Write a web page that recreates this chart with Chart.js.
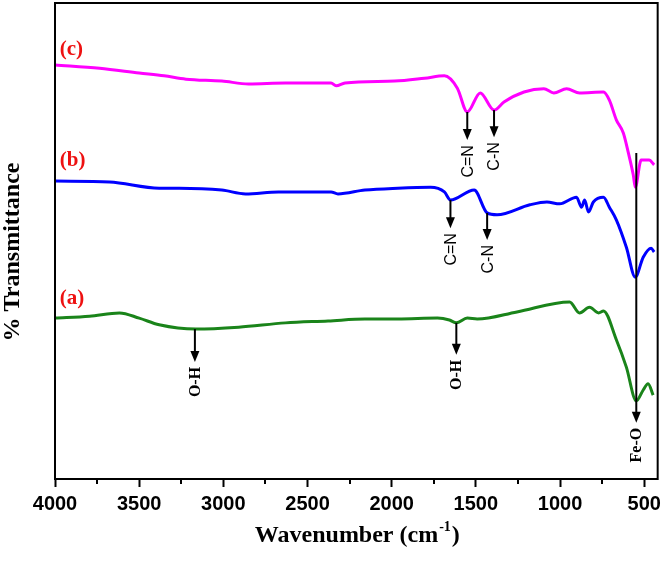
<!DOCTYPE html>
<html>
<head>
<meta charset="utf-8">
<script src="https://cdn.jsdelivr.net/npm/chart.js@4"></script>
<style>
    html, body { margin: 0; padding: 0; background: #fff; }
    #wrap { width: 666px; height: 564px; }
</style>
</head>
<body>
<div id="wrap"><canvas id="ftir"></canvas></div>
<script>
// wavenumber (cm-1) and relative transmittance
const wnC = [4000, 3735, 3500, 3352, 3222, 3009, 2850, 2631, 2360, 2330, 2277, 1982, 1805, 1687, 1610, 1551, 1474, 1392, 1333, 1214, 1096, 1037, 961, 884, 742, 707, 665, 624, 594, 565, 553, 518, 471, 441];
const tC  = [87.0, 86.3, 85.3, 84.7, 84.0, 83.6, 83.0, 83.2, 83.2, 82.6, 83.2, 83.6, 84.2, 84.7, 82.1, 77.1, 81.1, 77.5, 79.2, 81.3, 82.0, 81.1, 82.0, 81.1, 81.3, 79.6, 75.4, 72.7, 68.5, 63.9, 61.3, 67.0, 67.0, 66.0];

const wnB = [4000, 3676, 3381, 3263, 3009, 2868, 2673, 2360, 2319, 2159, 1964, 1769, 1687, 1651, 1510, 1433, 1374, 1179, 1078, 1002, 902, 872, 854, 831, 802, 742, 707, 665, 606, 553, 506, 459, 441];
const tB  = [62.6, 62.4, 61.1, 61.1, 60.7, 59.9, 60.3, 60.3, 59.9, 60.7, 61.1, 61.3, 60.3, 58.6, 60.7, 55.9, 55.5, 57.6, 58.2, 57.8, 59.2, 57.1, 58.6, 56.1, 58.2, 59.2, 57.1, 54.4, 48.7, 42.4, 46.6, 48.5, 47.7];

const wnA = [4000, 3795, 3617, 3500, 3381, 3163, 2909, 2631, 2378, 2159, 1964, 1728, 1657, 1616, 1551, 1492, 1256, 943, 884, 825, 771, 742, 665, 606, 547, 506, 477, 447];
const tA  = [33.8, 34.2, 34.9, 33.8, 32.4, 31.5, 31.9, 32.8, 33.2, 33.6, 33.6, 33.8, 33.4, 32.8, 33.8, 33.6, 35.1, 37.2, 34.9, 36.1, 34.9, 35.3, 29.2, 23.5, 16.4, 18.7, 20.0, 17.6];

const seriesNames = ['(c)', '(b)', '(a)'];
const seriesColors = ['#ff00ff', '#0000ff', '#1a841a'];

const majorTicks = [4000, 3500, 3000, 2500, 2000, 1500, 1000, 500];
const minorTicks = [3750, 3250, 2750, 2250, 1750, 1250, 750];

// band assignments: wavenumber, arrow from / to (transmittance), text
const bandWn    = [1551, 1392, 1651, 1433, 3169, 1616, 547];
const bandFrom  = [77.1, 77.5, 58.6, 55.9, 31.5, 32.8, 68.5];
const bandTo    = [71.2, 71.8, 52.7, 50.2, 24.6, 26.1, 11.8];
const bandText  = ['C=N', 'C-N', 'C=N', 'C-N', 'O-H', 'O-H', 'Fe-O'];
const bandSerif = [false, false, false, false, true, true, true];

const nameWn = [3972, 3972, 3972];
const nameT  = [90.3, 67.0, 38.0];

function pts(wn, t) {
    return wn.map((x, i) => ({ x: x, y: t[i] }));
}

const decorations = {
    id: 'decorations',
    afterDatasetsDraw(chart) {
        const ctx = chart.ctx;
        const xs = chart.scales.x, ys = chart.scales.y;
        const area = chart.chartArea;
        ctx.save();

        // frame
        ctx.strokeStyle = '#000';
        ctx.lineWidth = 2;
        ctx.strokeRect(area.left, area.top, area.right - area.left, area.bottom - area.top);

        // minor ticks
        minorTicks.forEach(v => {
            const px = Math.round(xs.getPixelForValue(v));
            ctx.beginPath();
            ctx.moveTo(px, area.bottom);
            ctx.lineTo(px, area.bottom + 5);
            ctx.stroke();
        });

        // arrows and band labels
        bandWn.forEach((w, i) => {
            const px = xs.getPixelForValue(w);
            const y1 = ys.getPixelForValue(bandFrom[i]);
            const y2 = ys.getPixelForValue(bandTo[i]);
            ctx.strokeStyle = '#000';
            ctx.fillStyle = '#000';
            ctx.lineWidth = 2;
            ctx.beginPath();
            ctx.moveTo(px, y1);
            ctx.lineTo(px, y2 - 9);
            ctx.stroke();
            ctx.beginPath();
            ctx.moveTo(px - 4.5, y2 - 11);
            ctx.lineTo(px + 4.5, y2 - 11);
            ctx.lineTo(px, y2);
            ctx.closePath();
            ctx.fill();

            ctx.save();
            ctx.translate(px, y2 + 5);
            ctx.rotate(-Math.PI / 2);
            ctx.font = bandSerif[i] ? 'bold 16px "Liberation Serif"' : '16px "Liberation Sans"';
            ctx.textAlign = 'right';
            ctx.textBaseline = 'middle';
            ctx.fillText(bandText[i], 0, 1);
            ctx.restore();
        });

        // series names
        ctx.font = 'bold 21px "Liberation Serif"';
        ctx.fillStyle = '#ee1111';
        ctx.textAlign = 'left';
        ctx.textBaseline = 'middle';
        seriesNames.forEach((s, i) => {
            ctx.fillText(s, xs.getPixelForValue(nameWn[i]), ys.getPixelForValue(nameT[i]));
        });

        // axis titles
        ctx.fillStyle = '#000';
        ctx.save();
        ctx.translate(13, 252);
        ctx.rotate(-Math.PI / 2);
        ctx.font = 'bold 24px "Liberation Serif"';
        ctx.textAlign = 'center';
        ctx.fillText('% Transmittance', 0, 0);
        ctx.restore();

        const main = 'Wavenumber (cm', sup = '-1', tail = ')';
        const big = 'bold 24px "Liberation Serif"', small = 'bold 14px "Liberation Serif"';
        ctx.font = big;
        const w1 = ctx.measureText(main).width, w3 = ctx.measureText(tail).width;
        ctx.font = small;
        const w2 = ctx.measureText(sup).width;
        let x0 = (area.left + area.right) / 2 - (w1 + w2 + w3) / 2;
        const yb = 542;
        ctx.textAlign = 'left';
        ctx.textBaseline = 'alphabetic';
        ctx.font = big;
        ctx.fillText(main, x0, yb);
        ctx.font = small;
        ctx.fillText(sup, x0 + w1 + 1, yb - 11);
        ctx.font = big;
        ctx.fillText(tail, x0 + w1 + w2 + 2, yb);

        ctx.restore();
    }
};

new Chart(document.getElementById('ftir'), {
    type: 'line',
    data: {
        datasets: [
            { label: seriesNames[0], data: pts(wnC, tC), borderColor: seriesColors[0] },
            { label: seriesNames[1], data: pts(wnB, tB), borderColor: seriesColors[1] },
            { label: seriesNames[2], data: pts(wnA, tA), borderColor: seriesColors[2] }
        ]
    },
    options: {
        responsive: true,
        maintainAspectRatio: false,
        animation: false,
        layout: { padding: { top: 3, right: 5, left: 0, bottom: 0 } },
        elements: {
            point: { radius: 0 },
            line: { borderWidth: 3, tension: 0.25, cubicInterpolationMode: 'monotone' }
        },
        plugins: {
            legend: { display: false },
            tooltip: { enabled: false }
        },
        scales: {
            x: {
                type: 'linear',
                reverse: true,
                min: 420,
                max: 4000,
                afterBuildTicks: (scale) => {
                    scale.ticks = majorTicks.map(v => ({ value: v }));
                },
                afterFit: (scale) => { scale.height = 85; },
                grid: {
                    drawOnChartArea: false,
                    drawTicks: true,
                    tickLength: 8,
                    tickColor: '#000',
                    tickWidth: 2
                },
                border: { display: true, color: '#000', width: 2 },
                ticks: {
                    color: '#000',
                    padding: 5,
                    maxRotation: 0,
                    autoSkip: false,
                    callback: (v) => String(v),
                    font: { family: '"Liberation Sans"', size: 20, weight: 'bold' }
                }
            },
            y: {
                min: 0,
                max: 100,
                afterFit: (scale) => { scale.width = 55; },
                grid: { display: false },
                border: { display: true, color: '#000', width: 2 },
                ticks: { display: false }
            }
        }
    },
    plugins: [decorations]
});
</script>
</body>
</html>
